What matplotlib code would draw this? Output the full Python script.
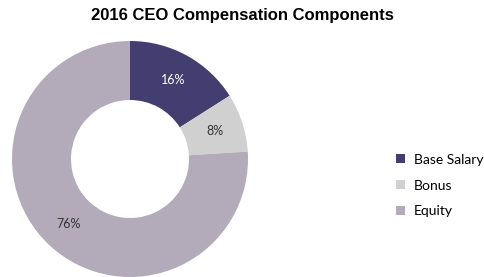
import matplotlib.pyplot as plt
from matplotlib.patches import Patch

labels = ["Base Salary", "Bonus", "Equity"]
shares = [16, 8, 76]
colors = ["#443d6f", "#d0d0d0", "#b3aaba"]
text_colors = ["white", "#333333", "#333333"]

fig = plt.figure(figsize=(4.85, 2.77), dpi=100)
fig.text(0.5, 0.945, "2016 CEO Compensation Components", ha="center", va="center",
         fontsize=12, fontweight="bold", family="Liberation Sans")

# donut centred at roughly (130, 159) px with radius 118 px
ax = fig.add_axes([12 / 485, 0.0, 236 / 485, 236 / 277])
wedges, texts, autotexts = ax.pie(
    shares, colors=colors, startangle=90, counterclock=False,
    autopct="%d%%", pctdistance=0.76,
    wedgeprops=dict(width=0.5, edgecolor="none"),
    textprops=dict(fontsize=9, family="Lato"),
)
for t, c in zip(autotexts, text_colors):
    t.set_color(c)
ax.set_xlim(-1, 1)
ax.set_ylim(-1, 1)

handles = [Patch(facecolor=c, edgecolor="none") for c in colors]
fig.legend(handles, labels, loc="center left", bbox_to_anchor=(0.797, 0.33),
           frameon=False, prop=dict(family="Lato", size=10),
           handlelength=0.65, handleheight=0.65, handletextpad=0.6,
           labelspacing=1.0, borderpad=0.2)

fig.savefig("out.png", dpi=100)
